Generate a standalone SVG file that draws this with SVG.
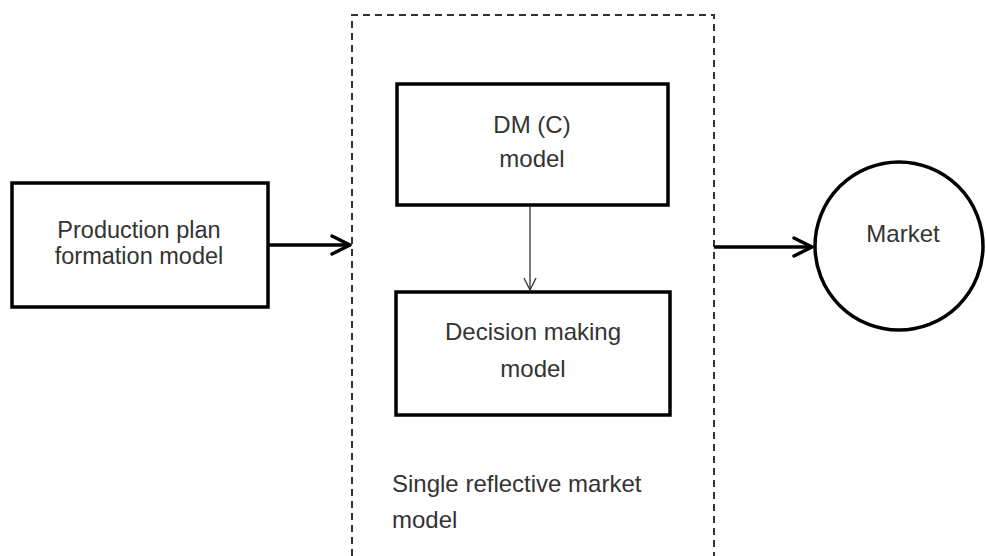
<svg xmlns="http://www.w3.org/2000/svg" width="986" height="556" viewBox="0 0 986 556">
<defs>
<style>
.box{fill:#fff;stroke:#000;stroke-width:3.5}
.t{font-family:"Liberation Sans",Arial,sans-serif;font-size:24px;fill:#333;text-anchor:middle}
.tl{font-family:"Liberation Sans",Arial,sans-serif;font-size:24px;fill:#333}
.thick{stroke:#000;stroke-width:3.5;fill:none}
.thin{stroke:#333;stroke-width:1.3;fill:none}
</style>
<marker id="ah" viewBox="0 0 22 22" refX="20" refY="11" markerWidth="22" markerHeight="22" markerUnits="userSpaceOnUse" orient="auto">
<path d="M2,2 L20,11 L2,20" fill="none" stroke="#000" stroke-width="3.5" stroke-linecap="round" stroke-linejoin="round"/>
</marker>
<marker id="ahs" viewBox="0 0 14 14" refX="13" refY="7" markerWidth="14" markerHeight="14" markerUnits="userSpaceOnUse" orient="auto">
<path d="M1,1 L13,7 L1,13" fill="none" stroke="#333" stroke-width="1.3"/>
</marker>
</defs>
<rect width="986" height="556" fill="#fff"/>
<g id="container">
<path d="M352,556 V15 H714 V556" fill="none" stroke="#333" stroke-width="2" stroke-dasharray="7,5"/>
<text class="tl" x="392" y="492">Single reflective market</text>
<text class="tl" x="392" y="528">model</text>
</g>
<g id="production">
<rect class="box" x="12" y="183" width="256" height="124"/>
<text class="t" x="139" y="238" style="font-size:23.5px">Production plan</text>
<text class="t" x="139" y="264" style="font-size:23.5px">formation model</text>
</g>
<g id="dm">
<rect class="box" x="397" y="84" width="271" height="121"/>
<text class="t" x="532" y="133">DM (C)</text>
<text class="t" x="532" y="167">model</text>
</g>
<g id="decision">
<rect class="box" x="396" y="292" width="274" height="123"/>
<text class="t" x="533" y="340">Decision making</text>
<text class="t" x="533" y="377">model</text>
</g>
<g id="market">
<circle cx="899" cy="246" r="84" fill="#fff" stroke="#000" stroke-width="3.5"/>
<text class="t" x="903" y="242">Market</text>
</g>
<g id="connectors">
<line class="thick" x1="268" y1="245" x2="350" y2="245" marker-end="url(#ah)"/>
<line class="thin" x1="530" y1="206" x2="530" y2="290" marker-end="url(#ahs)"/>
<line class="thick" x1="714" y1="247" x2="812" y2="247" marker-end="url(#ah)"/>
</g>
</svg>
